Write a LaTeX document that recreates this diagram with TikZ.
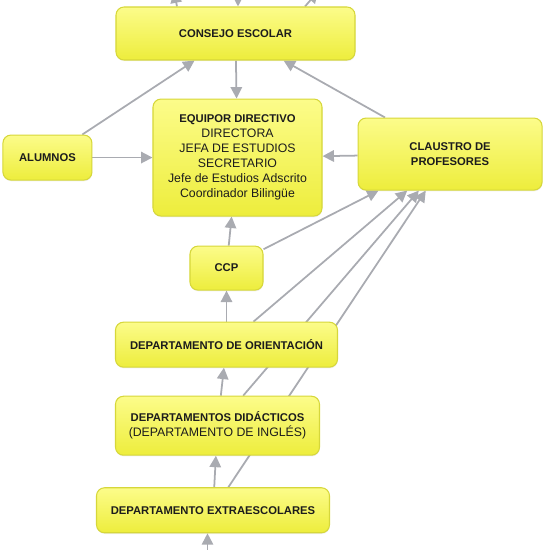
\documentclass[tikz,border=0pt]{standalone}
\usepackage{fontspec}
\setmainfont{Liberation Sans}
\usetikzlibrary{arrows.meta, positioning, backgrounds, shadows}

\definecolor{boxtop}{HTML}{FCFC8A}
\definecolor{boxbot}{HTML}{EDED3C}
\definecolor{boxline}{HTML}{D6D73A}
\definecolor{arrowgray}{HTML}{A9ABB1}
\definecolor{inkdark}{HTML}{1C1C1C}

\newcommand{\ttl}[1]{{\fontsize{6.4}{8.5}\selectfont\bfseries #1}}

\begin{document}
\begin{tikzpicture}[
      every node/.style={text=inkdark},
      box/.style={draw=boxline, line width=0.6pt, rectangle, rounded corners=0.16cm,
        top color=boxtop, bottom color=boxbot, align=center, inner sep=2pt,
        font=\fontsize{7}{8.5}\selectfont,
        drop shadow={opacity=0.12, shadow xshift=0.2pt, shadow yshift=-0.7pt}},
      arr/.style={draw=arrowgray, line width=1pt, -{Triangle[length=6.5pt, width=6.5pt]}}
    ]
    \useasboundingbox (-4.71,0.67) rectangle (6.29,-10.33);

    % Nodes
    \node[box, minimum width=4.78cm, minimum height=1.06cm] (consejo) {\ttl{CONSEJO ESCOLAR}};
    \node[box, below=0.76cm of consejo, xshift=0.04cm, minimum width=3.38cm, minimum height=2.34cm] (equipo)
      {\ttl{EQUIPOR DIRECTIVO}\\ DIRECTORA\\ JEFA DE ESTUDIOS\\ SECRETARIO\\
       Jefe de Estudios Adscrito\\ Coordinador Bilingüe};
    \node[box, left=1.2cm of equipo, minimum width=1.78cm, minimum height=0.9cm] (alumnos) {\ttl{ALUMNOS}};
    \node[box, right=0.7cm of equipo, yshift=0.07cm, minimum width=3.68cm, minimum height=1.44cm] (claustro)
      {\ttl{CLAUSTRO DE}\\ \ttl{PROFESORES}};
    \node[box, below=0.58cm of equipo, xshift=-0.22cm, minimum width=1.46cm, minimum height=0.88cm] (ccp) {\ttl{CCP}};
    \node[box, below=0.62cm of ccp, minimum width=4.44cm, minimum height=0.9cm] (orient) {\ttl{DEPARTAMENTO DE ORIENTACIÓN}};
    \node[box, below=0.56cm of orient, xshift=-0.18cm, minimum width=4.08cm, minimum height=1.18cm] (didac)
      {\ttl{DEPARTAMENTOS DIDÁCTICOS}\\ (DEPARTAMENTO DE INGLÉS)};
    \node[box, below=0.63cm of didac, xshift=-0.09cm, minimum width=4.66cm, minimum height=0.9cm] (extra) {\ttl{DEPARTAMENTO EXTRAESCOLARES}};

    % ends leaving the picture
    \coordinate[above left=0.3cm and 1.23cm of consejo.north] (up1);
    \coordinate[above right=0.74cm and 0.05cm of consejo.north] (down1);
    \coordinate[above right=0.3cm and 1.65cm of consejo.north] (up2);
    \coordinate[below left=0.8cm and 0.11cm of extra.south] (below1);

    % Arrows
    \begin{pgfonlayer}{background}
    \draw[arr] ([xshift=-1.17cm]consejo.north) -- (up1);
    \draw[arr] (down1) -- ([xshift=0.05cm]consejo.north);
    \draw[arr] ([xshift=1.39cm]consejo.north) -- (up2);
    \draw[arr] (consejo) -- (equipo);
    \draw[arr] (alumnos) -- (consejo);
    \draw[arr] (claustro) -- (consejo);
    \draw[arr] (alumnos) -- (equipo);
    \draw[arr] (claustro) -- (equipo);
    \draw[arr] (ccp) -- (equipo);
    \draw[arr] (ccp) -- (claustro);
    \draw[arr] (orient) -- (ccp);
    \draw[arr] (orient) -- (claustro);
    \draw[arr] (didac) -- (orient);
    \draw[arr] (didac) -- (claustro);
    \draw[arr] (extra) -- (didac);
    \draw[arr] (extra) -- (claustro);
    \draw[arr] (below1) -- ([xshift=-0.11cm]extra.south);
    \end{pgfonlayer}
    \end{tikzpicture}
\end{document}
